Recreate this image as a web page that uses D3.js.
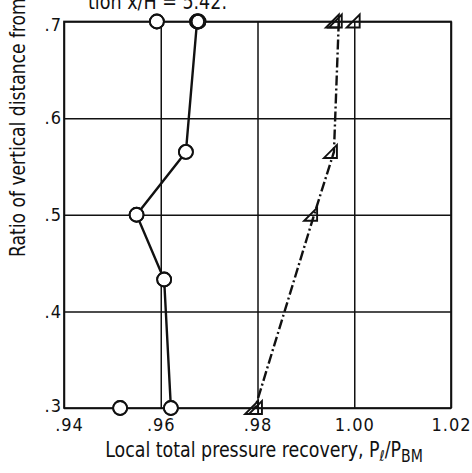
<!DOCTYPE html>
<html>
<head>
<meta charset="utf-8">
<script src="https://cdn.jsdelivr.net/npm/d3@7"></script>
<style>
  html, body { margin: 0; padding: 0; background: #fff; }
  svg { display: block; }
  text { font-family: "Liberation Sans Narrow", "DejaVu Sans Condensed", "Liberation Sans", sans-serif; fill: #111; }
</style>
</head>
<body>
<script>
// Axis ticks and labels
const xTicks = [0.94, 0.96, 0.98, 1.00, 1.02];
const xTickLabels = [".94", ".96", ".98", "1.00", "1.02"];
const yTicks = [0.3, 0.4, 0.5, 0.6, 0.7];
const yTickLabels = [".3", ".4", ".5", ".6", ".7"];

// Circle series (solid line): pressure recovery vs. height ratio
const circleRecovery = [0.9675, 0.9652, 0.9550, 0.9607, 0.9621];
const circleHeight   = [0.700, 0.565, 0.500, 0.433, 0.300];
// Extra circle readings not on the faired line (overlapping pair at top drawn twice)
const circleExtraRecovery = [0.9592, 0.9678, 0.9516];
const circleExtraHeight   = [0.700, 0.700, 0.300];

// Triangle series (dash-dot line)
const triRecovery = [0.9968, 0.9958, 0.9917, 0.9795];
const triHeight   = [0.700, 0.565, 0.500, 0.300];
// Extra triangle readings (duplicates and off-line points)
const triExtraRecovery = [0.9962, 1.0005, 0.9803];
const triExtraHeight   = [0.700, 0.700, 0.300];

const W = 472, H = 473;
const svg = d3.select("body").append("svg").attr("width", W).attr("height", H);

const x = d3.scaleLinear().domain([0.94, 1.02]).range([64, 451]);
const y = d3.scaleLinear().domain([0.3, 0.7]).range([408, 21.5]);

const ink = "#111";

// Grid lines
svg.append("g")
  .attr("transform", `translate(0,${y(0.3)})`)
  .call(d3.axisBottom(x).tickValues(xTicks).tickSize(-(y(0.3) - y(0.7))).tickFormat(""))
  .call(g => g.select(".domain").remove())
  .call(g => g.selectAll("line").attr("stroke", ink).attr("stroke-width", 1.5));

svg.append("g")
  .attr("transform", `translate(${x(0.94)},0)`)
  .call(d3.axisLeft(y).tickValues(yTicks).tickSize(-(x(1.02) - x(0.94))).tickFormat(""))
  .call(g => g.select(".domain").remove())
  .call(g => g.selectAll("line").attr("stroke", ink).attr("stroke-width", 1.5));

// Frame
svg.append("rect")
  .attr("x", x(0.94)).attr("y", y(0.7))
  .attr("width", x(1.02) - x(0.94)).attr("height", y(0.3) - y(0.7))
  .attr("fill", "none").attr("stroke", ink).attr("stroke-width", 1.7);

// Tick labels
const xAxis = svg.append("g")
  .attr("transform", `translate(0,${y(0.3)})`)
  .call(d3.axisBottom(x).tickValues(xTicks).tickSize(0).tickPadding(10)
    .tickFormat((d, i) => xTickLabels[i]));
xAxis.select(".domain").remove();
xAxis.selectAll("text")
  .attr("font-size", 18).attr("letter-spacing", 1).attr("fill", ink)
  .attr("font-family", null)
  .attr("dx", (d, i) => i === 0 ? 5 : 0);

const yAxis = svg.append("g")
  .attr("transform", `translate(${x(0.94)},0)`)
  .call(d3.axisLeft(y).tickValues(yTicks).tickSize(0).tickPadding(2)
    .tickFormat((d, i) => yTickLabels[i]));
yAxis.select(".domain").remove();
yAxis.selectAll("text")
  .attr("font-size", 18).attr("letter-spacing", 1).attr("fill", ink)
  .attr("font-family", null)
  .attr("dy", (d, i) => i === yTicks.length - 1 ? "0.5em" : (i === 0 ? "0.2em" : "0.32em"));

// Horizontal scale factor that fits a text element to a target width
function fitText(sel, target) {
  const w = sel.node().getBBox().width;
  return target / w;
}

// X axis title
const xTitle = svg.append("text").attr("font-size", 21).attr("text-anchor", "middle");
xTitle.append("tspan").text("Local total pressure recovery,  P");
xTitle.append("tspan").attr("font-size", 15).attr("dy", 4).text("ℓ");
xTitle.append("tspan").attr("dy", -4).text("/P");
xTitle.append("tspan").attr("font-size", 17).attr("dy", 5).text("BM");
const sx = fitText(xTitle, 318);
xTitle.attr("transform", `translate(264,457) scale(${sx},1)`);

// Y axis title
const yTitle = svg.append("text").attr("font-size", 22).attr("text-anchor", "start")
  .text("Ratio of vertical distance from");
const sy = fitText(yTitle, 259);
yTitle.attr("transform", `translate(25,257) rotate(-90) scale(${sy},1)`);

// Caption line at top
const cap = svg.append("text").attr("font-size", 21).attr("text-anchor", "start")
  .text("tion  x/H = 5.42.");
const sc = fitText(cap, 139);
cap.attr("transform", `translate(88,9) scale(${sc},1)`);

// Triangle series line (dash-dot)
const triPts = triRecovery.map((v, i) => [v, triHeight[i]]);
svg.append("path")
  .datum(triPts)
  .attr("d", d3.line().x(d => x(d[0])).y(d => y(d[1])))
  .attr("fill", "none").attr("stroke", ink).attr("stroke-width", 2.4)
  .attr("stroke-dasharray", "10,3,2,3");

// Circle series line (solid)
const circPts = circleRecovery.map((v, i) => [v, circleHeight[i]]);
svg.append("path")
  .datum(circPts)
  .attr("d", d3.line().x(d => x(d[0])).y(d => y(d[1])))
  .attr("fill", "none").attr("stroke", ink).attr("stroke-width", 2.4);

// Circle markers
const allCirc = circPts.concat(circleExtraRecovery.map((v, i) => [v, circleExtraHeight[i]]));
svg.append("g").selectAll("circle").data(allCirc).join("circle")
  .attr("cx", d => x(d[0])).attr("cy", d => y(d[1])).attr("r", 7)
  .attr("fill", "#fff").attr("stroke", ink).attr("stroke-width", 1.8);
// redraw outlines so overlapping pairs read as heavier rings
svg.append("g").selectAll("circle").data(allCirc).join("circle")
  .attr("cx", d => x(d[0])).attr("cy", d => y(d[1])).attr("r", 7)
  .attr("fill", "none").attr("stroke", ink).attr("stroke-width", 1.8);

// Triangle markers: right angle at lower right
const triPath = "M-10,6 L3,6 L3,-7 Z";
const allTri = triPts.concat(triExtraRecovery.map((v, i) => [v, triExtraHeight[i]]));
svg.append("g").selectAll("path").data(allTri).join("path")
  .attr("d", triPath)
  .attr("transform", d => `translate(${x(d[0])},${y(d[1])})`)
  .attr("fill", "none").attr("stroke", ink).attr("stroke-width", 1.9)
  .attr("stroke-linejoin", "miter");
</script>
</body>
</html>
